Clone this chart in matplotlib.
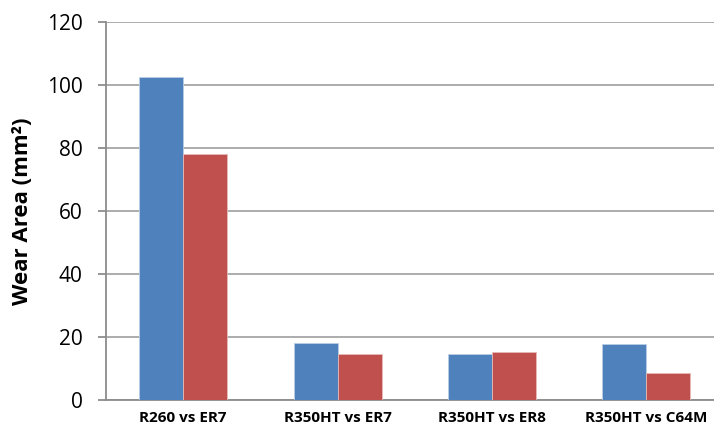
import numpy as np
import matplotlib.pyplot as plt

# ---------------- data ----------------
categories = ['R260 vs ER7', 'R350HT vs ER7', 'R350HT vs ER8', 'R350HT vs C64M']
series_a = [102.4, 18.1, 14.6, 17.7]   # blue
series_b = [78.0, 14.6, 15.1, 8.6]     # red

plt.rcParams['font.family'] = ['Open Sans', 'DejaVu Sans']

fig = plt.figure(figsize=(7.14, 4.24), dpi=100)
ax = fig.add_axes([0.1485, 0.0566, 0.865, 0.8915])

x = np.arange(len(categories))
w = 0.285
ax.bar(x - w/2, series_a, w, color='#4F81BD', edgecolor='#B9CDE5', linewidth=0.6, zorder=3)
ax.bar(x + w/2, series_b, w, color='#C0504D', edgecolor='#E6B9B8', linewidth=0.6, zorder=3)

ax.set_xlim(-0.5, len(categories) - 0.5)
ax.set_ylim(0, 120)
ax.set_yticks(np.arange(0, 121, 20))
ax.set_xticks(x)
ax.set_xticklabels(categories, fontsize=11, fontweight='bold', color='#000000')
ax.tick_params(axis='x', length=0, pad=8)
ax.tick_params(axis='y', length=6, width=1.3, labelsize=15, pad=11, colors='#000000')
ax.tick_params(axis='y', color='#8C8C8C')
ax.yaxis.grid(True, color='#A6A6A6', linewidth=1.3, zorder=0)
ax.set_axisbelow(True)

for s in ['top', 'right']:
    ax.spines[s].set_visible(False)
ax.spines['left'].set_color('#8C8C8C')
ax.spines['left'].set_linewidth(1.3)
ax.spines['bottom'].set_color('#8C8C8C')
ax.spines['bottom'].set_linewidth(1.3)

ax.set_ylabel('Wear Area (mm²)', fontsize=16, fontweight='bold', labelpad=10)

fig.savefig('out.png', dpi=100)
